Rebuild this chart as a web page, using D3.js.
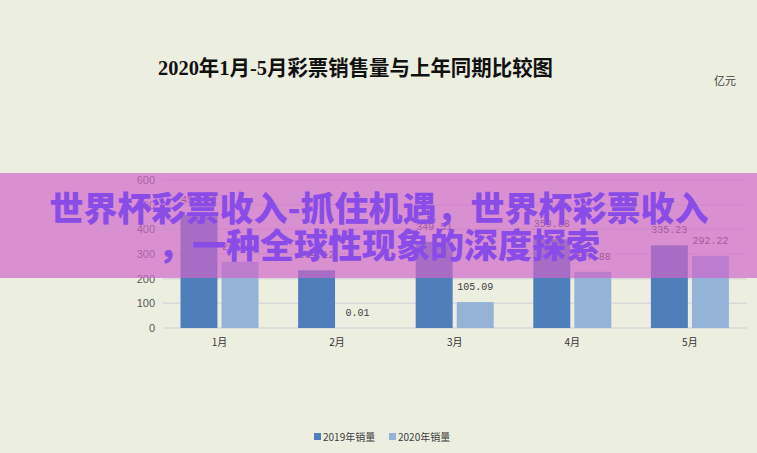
<!DOCTYPE html>
<html><head><meta charset="utf-8">
<script src="https://cdn.jsdelivr.net/npm/d3@7"></script>
<style>
html,body{margin:0;padding:0;background:#eceee0;}
svg{display:block;}
</style></head>
<body>
<svg id="c" width="757" height="453"></svg>
<script>
const categories = ["1月","2月","3月","4月","5月"];
const seriesNames = ["2019年销量","2020年销量"];
const sales2019 = [459.92, 234.12, 349.51, 359.88, 335.23];
const sales2020 = [268.51, 0.01, 105.09, 227.88, 292.22];
const yTicks = [0,100,200,300,400,500,600];
const colors = ["#4f7fbb","#95b3d7"];
const titleText = "2020年1月-5月彩票销售量与上年同期比较图";
const unitText = "亿元";
const overlayLines = ["世界杯彩票收入-抓住机遇，世界杯彩票收入","，一种全球性现象的深度探索"];

const svg = d3.select("#c");
svg.append("rect").attr("width",757).attr("height",453).attr("fill","#eceee0");

const x = d3.scaleBand().domain(categories).range([160.7,748.7]).paddingInner(0).paddingOuter(0);
const inner = d3.scaleBand().domain(seriesNames).range([0, 78]).paddingInner(0.1);
const y = d3.scaleLinear().domain([0,600]).range([328,180]);

// gridlines
svg.append("g").selectAll("line").data(yTicks).join("line")
  .attr("x1",163).attr("x2",747)
  .attr("y1",d=>y(d)).attr("y2",d=>y(d))
  .attr("stroke","#d9d9d9").attr("stroke-width",1.5);

// y axis labels
const yAxis = d3.axisLeft(y).tickValues(yTicks).tickSize(0).tickPadding(0);
const gy = svg.append("g").attr("transform","translate(155,0)").call(yAxis);
gy.select(".domain").remove();
gy.selectAll("text").attr("font-family","Liberation Sans, sans-serif").attr("font-size",11).attr("fill","#595959");

// x axis labels
const xAxis = d3.axisBottom(x).tickSize(0).tickPadding(0);
const gx = svg.append("g").attr("transform","translate(0,339)").call(xAxis);
gx.select(".domain").remove();
gx.selectAll("text").attr("font-family","Noto Sans CJK SC, sans-serif").attr("font-size",10).attr("fill","#333");

const data = categories.map((c,i)=>({cat:c, vals:[{s:seriesNames[0],v:sales2019[i]},{s:seriesNames[1],v:sales2020[i]}]}));
const groups = svg.append("g").selectAll("g").data(data).join("g")
  .attr("transform",d=>`translate(${x(d.cat)+x.bandwidth()/2-39},0)`);
groups.selectAll("rect").data(d=>d.vals).join("rect")
  .attr("x",d=>inner(d.s)).attr("width",inner.bandwidth())
  .attr("y",d=>y(d.v)).attr("height",d=>y(0)-y(d.v))
  .attr("fill",(d,i)=>colors[i]);
groups.selectAll("text").data(d=>d.vals).join("text")
  .attr("x",d=>inner(d.s)+inner.bandwidth()/2)
  .attr("y",d=>y(d.v)-12)
  .attr("text-anchor","middle")
  .attr("font-family","Liberation Mono, monospace").attr("font-size",10).attr("fill","#404040")
  .text(d=>d.v.toFixed(2));

// title
svg.append("text").attr("x",158).attr("y",75).attr("textLength",395).attr("lengthAdjust","spacingAndGlyphs")
  .attr("font-family","Liberation Serif, Noto Sans CJK SC, serif").attr("font-weight","bold")
  .attr("font-size",21).attr("fill","#111").text(titleText);
svg.append("text").attr("x",714).attr("y",85)
  .attr("font-family","Noto Sans CJK SC, sans-serif").attr("font-size",11).attr("fill","#404040").text(unitText);

// legend
const leg = svg.append("g").attr("transform","translate(314,437)");
const legX = [0,75];
seriesNames.forEach((n,i)=>{
  leg.append("rect").attr("x",legX[i]).attr("y",-4).attr("width",7).attr("height",7).attr("fill",colors[i]);
  leg.append("text").attr("x",legX[i]+9).attr("y",3.5)
    .attr("font-family","Noto Sans CJK SC, sans-serif").attr("font-size",10).attr("fill","#404040").text(n);
});

// overlay band
svg.append("rect").attr("x",0).attr("y",173).attr("width",757).attr("height",105)
  .attr("fill","rgb(207,102,201)").attr("fill-opacity",0.69);
overlayLines.forEach((t,i)=>{
  svg.append("text").attr("x",379).attr("y",[221,258][i]).attr("text-anchor","middle")
    .attr("font-family","Noto Sans CJK SC, sans-serif").attr("font-weight",900)
    .attr("font-size",34).attr("fill","#8a4ce6").text(t);
});
</script>
</body></html>
